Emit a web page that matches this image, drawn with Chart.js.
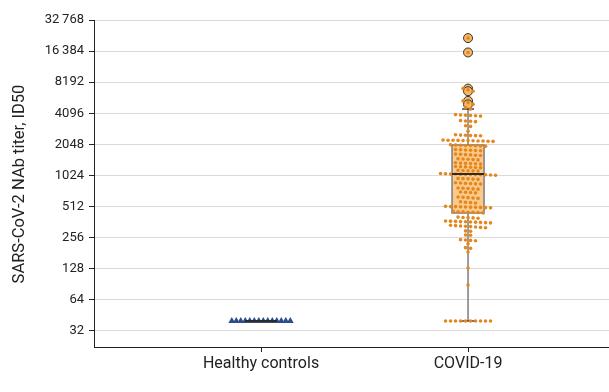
<!DOCTYPE html>
<html>
<head>
<meta charset="utf-8">
<script src="https://cdn.jsdelivr.net/npm/chart.js@4.4.0/dist/chart.umd.min.js"></script>
<style>
  html, body { margin: 0; background: #fff; }
</style>
</head>
<body>
<canvas id="graficoTitulos" width="609" height="392"></canvas>
<script>
// Dados
const categorias = ['Healthy controls', 'COVID-19'];
const marcasY = [32, 64, 128, 256, 512, 1024, 2048, 4096, 8192, 16384, 32768];

const controlesSaudaveis = [40, 40, 40, 40, 40, 40, 40, 40, 40, 40, 40, 40, 40, 40];

const covid19 = [
  21900,
  15900,
  7100, 6900, 6700,
  5400, 5200, 5000,
  4650, 4500,
  3980, 3950, 3920, 3900, 3880, 3850,
  3480, 3450, 3430, 3400,
  3100, 3060,
  2750,
  2540, 2520, 2510, 2500, 2490, 2480,
  2260, 2250, 2250, 2240, 2230, 2230, 2220, 2210, 2210, 2200, 2190,
  2030, 2020, 2010, 2000, 2000, 1990, 1980, 1970,
  1830, 1820, 1810, 1800, 1790, 1780,
  1650, 1640, 1630, 1620, 1610, 1600,
  1490, 1480, 1470, 1460, 1450,
  1360, 1350, 1345, 1340, 1330, 1320,
  1250, 1245, 1240, 1230, 1225, 1220,
  1150, 1145, 1140, 1135, 1130,
  1070, 1065, 1060, 1060, 1055, 1050, 1050, 1045, 1040, 1040, 1035, 1030,
  960, 955, 950, 945, 940,
  870, 865, 860, 855, 850, 845,
  775, 770, 765, 760, 755,
  710, 705, 700, 695,
  635, 630, 625, 620, 615,
  570, 565, 560, 555,
  515, 512, 512, 510, 508, 506, 505, 503, 500, 498,
  460, 457, 455, 452, 450, 448, 445,
  405, 402, 400, 398, 395,
  372, 370, 368, 366, 365, 363, 362, 360, 358, 356,
  338, 335, 332, 330, 328, 325, 322, 320,
  298, 295,
  272, 270,
  245, 243, 241, 239,
  224,
  205, 202,
  186,
  130,
  89,
  40, 40, 40, 40, 40, 40, 40, 40, 40, 40
];

// resumo do boxplot (um valor por categoria)
const quartil1 = [40, 444];
const medianas = [40, 1059];
const quartil3 = [40, 2022];
const bigodeInferior = [40, 40];
const bigodeSuperior = [40, 4500];
const valoresAtipicos = [21900, 15900, 7100, 6700, 5400, 5000];

const corTexto = '#222';
const fonte = 'Roboto, "Noto Sans", sans-serif';
Chart.defaults.font.family = fonte;
Chart.defaults.color = corTexto;

function formatarMarca(v) {
  const n = Math.round(v);
  if (n >= 10000) {
    const s = String(n);
    return s.slice(0, s.length - 3) + '\u2009' + s.slice(-3);
  }
  return String(n);
}

// distribui os pontos em linhas horizontais (estilo beeswarm)
function espalhar(valores, indice, espacamento, chart) {
  const sy = chart.scales.y;
  const sx = chart.scales.x;
  const pxUnidade = sx.getPixelForValue(1) - sx.getPixelForValue(0);
  const ordem = valores
    .map(v => ({ v, py: sy.getPixelForValue(v) }))
    .sort((a, b) => a.py - b.py);
  const linhas = [];
  let atual = [];
  ordem.forEach(p => {
    if (atual.length && p.py - atual[atual.length - 1].py > 1.8) {
      linhas.push(atual);
      atual = [];
    }
    atual.push(p);
  });
  if (atual.length) linhas.push(atual);
  const pontos = [];
  linhas.forEach(linha => {
    linha.forEach((p, i) => {
      const desloc = (i - (linha.length - 1) / 2) * espacamento;
      pontos.push({ x: indice + desloc / pxUnidade, y: p.v });
    });
  });
  return pontos;
}

const larguraCaixa = 32;
const larguraHaste = 12;

const pluginBoxplot = {
  id: 'boxplot',
  beforeDatasetsDraw(chart) {
    const { ctx, scales: { x, y } } = chart;
    ctx.save();
    categorias.forEach((c, i) => {
      const cx = x.getPixelForValue(i);
      const yMin = y.getPixelForValue(bigodeInferior[i]);
      const yMax = y.getPixelForValue(bigodeSuperior[i]);
      const yQ1 = y.getPixelForValue(quartil1[i]);
      const yQ3 = y.getPixelForValue(quartil3[i]);
      ctx.strokeStyle = '#7d7d7d';
      ctx.lineWidth = 1.5;
      ctx.beginPath();
      ctx.moveTo(cx, yMax); ctx.lineTo(cx, yQ3);
      ctx.moveTo(cx, yQ1); ctx.lineTo(cx, yMin);
      ctx.stroke();
      ctx.strokeStyle = '#444';
      ctx.beginPath();
      ctx.moveTo(cx - larguraHaste / 2, yMax); ctx.lineTo(cx + larguraHaste / 2, yMax);
      ctx.moveTo(cx - larguraHaste / 2, yMin); ctx.lineTo(cx + larguraHaste / 2, yMin);
      ctx.stroke();
      ctx.fillStyle = '#fdc98b';
      ctx.fillRect(cx - larguraCaixa / 2, yQ3, larguraCaixa, yQ1 - yQ3);
      ctx.strokeStyle = '#7d7d7d';
      ctx.strokeRect(cx - larguraCaixa / 2, yQ3, larguraCaixa, yQ1 - yQ3);
    });
    ctx.restore();
  },
  afterDatasetsDraw(chart) {
    const { ctx, scales: { x, y } } = chart;
    ctx.save();
    ctx.strokeStyle = '#2b2b2b';
    ctx.lineWidth = 2;
    categorias.forEach((c, i) => {
      const cx = x.getPixelForValue(i);
      const ym = y.getPixelForValue(medianas[i]);
      ctx.beginPath();
      ctx.moveTo(cx - larguraCaixa / 2, ym);
      ctx.lineTo(cx + larguraCaixa / 2, ym);
      ctx.stroke();
    });
    ctx.restore();
  }
};

const pluginTituloY = {
  id: 'tituloY',
  afterDraw(chart) {
    const { ctx } = chart;
    ctx.save();
    ctx.translate(20, 184);
    ctx.rotate(-Math.PI / 2);
    ctx.font = '16.5px ' + fonte;
    ctx.fillStyle = corTexto;
    ctx.textAlign = 'center';
    ctx.textBaseline = 'middle';
    ctx.fillText('SARS-CoV-2 NAb titer, ID50', 0, 0);
    ctx.restore();
  }
};

const grafico = new Chart(document.getElementById('graficoTitulos'), {
  type: 'scatter',
  data: {
    datasets: [
      {
        label: 'COVID-19',
        data: covid19.map(v => ({ x: 1, y: v })),
        pointStyle: 'circle',
        pointRadius: 1.8,
        pointHoverRadius: 1.8,
        pointBorderWidth: 0,
        backgroundColor: '#e4871c',
        borderColor: '#e4871c'
      },
      {
        label: 'Healthy controls',
        data: controlesSaudaveis.map(v => ({ x: 0, y: v })),
        pointStyle: 'triangle',
        pointRadius: 4,
        pointBorderWidth: 0,
        backgroundColor: '#2d4e8e',
        borderColor: '#2d4e8e'
      },
      {
        label: 'Outliers',
        data: valoresAtipicos.map(v => ({ x: 1, y: v })),
        pointStyle: 'circle',
        pointRadius: 4.5,
        pointBorderWidth: 1,
        backgroundColor: '#f6b866',
        borderColor: '#333'
      }
    ]
  },
  options: {
    responsive: false,
    animation: false,
    layout: { autoPadding: false, padding: { top: 20, right: 0, left: 0, bottom: 0 } },
    plugins: {
      legend: { display: false },
      tooltip: { enabled: false }
    },
    scales: {
      x: {
        type: 'linear',
        min: -0.807,
        max: 1.681,
        afterBuildTicks: s => { s.ticks = categorias.map((c, i) => ({ value: i })); },
        afterFit: s => { s.height = 45; },
        ticks: {
          callback: v => categorias[v],
          font: { size: 16 },
          color: corTexto,
          padding: 2,
          maxRotation: 0
        },
        grid: { drawOnChartArea: false, drawTicks: true, tickLength: 5, tickColor: '#222' },
        border: { color: '#222', width: 1 }
      },
      y: {
        type: 'logarithmic',
        min: 22.4,
        max: 32768,
        afterBuildTicks: s => { s.ticks = marcasY.map(v => ({ value: v })); },
        afterFit: s => { s.width = 94; },
        ticks: {
          callback: v => formatarMarca(v),
          font: { size: 13 },
          color: corTexto,
          padding: 5
        },
        grid: { color: '#dadada', lineWidth: 1, tickLength: 5, tickColor: '#222' },
        border: { color: '#222', width: 1 }
      }
    }
  },
  plugins: [pluginBoxplot, pluginTituloY]
});

// segunda passada: posiciona o enxame com as escalas já calculadas
grafico.data.datasets[0].data = espalhar(covid19, 1, 5, grafico);
grafico.data.datasets[1].data = espalhar(controlesSaudaveis, 0, 4.5, grafico);
grafico.update('none');
</script>
</body>
</html>
